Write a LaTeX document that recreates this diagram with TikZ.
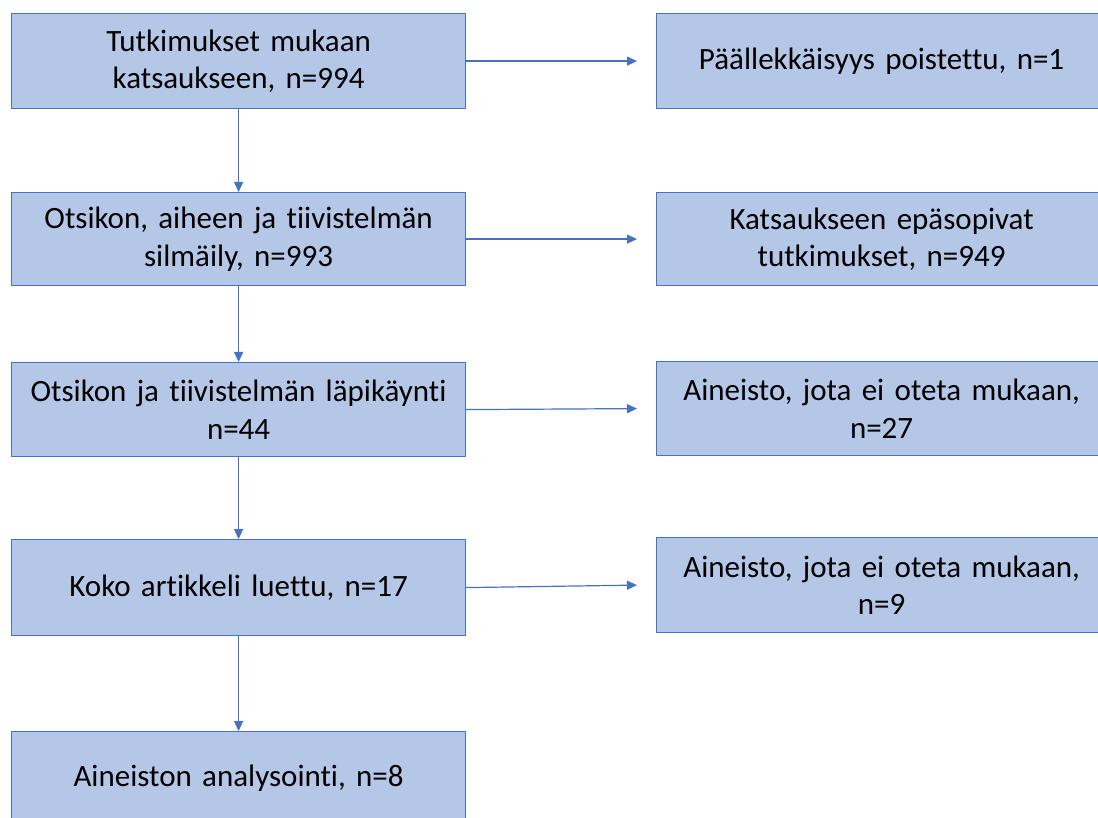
\documentclass[tikz,border=0pt]{standalone}
\usepackage{fontspec}
\setmainfont{Carlito}[Ligatures=NoCommon]
\usetikzlibrary{arrows.meta}
\definecolor{boxfill}{RGB}{180,199,231}
\definecolor{boxline}{RGB}{68,114,196}

\begin{document}
\begin{tikzpicture}[x=1pt, y=-1pt, line cap=round, line join=round, >={Triangle[length=10pt,width=9pt]},
    stagebox/.style={draw=boxline, fill=boxfill, line width=1.2pt, anchor=north west, minimum width=454pt, minimum height=95pt, inner sep=0pt, text width=446pt, align=center, font=\fontsize{31}{37.5}\selectfont},
    outbox/.style={stagebox, minimum width=450pt},
    flow/.style={->, draw=boxline, line width=1.2pt}]

        % Page frame
        \useasboundingbox (0,0) rectangle (1098,818);

        % Main stages (left column)
        \node[stagebox] (s1) at (11,13) {Tutkimukset mukaan\\katsaukseen, n=994};
        \node[stagebox, minimum height=93pt] (s2) at (11,192) {Otsikon, aiheen ja tiivistelmän\\silmäily, n=993};
        \node[stagebox, minimum height=94pt] (s3) at (11,362) {Otsikon ja tiivistelmän läpikäynti\\n=44};
        \node[stagebox, minimum height=96pt] (s4) at (11,539) {Koko artikkeli luettu, n=17};
        \node[stagebox, minimum height=94pt] (s5) at (11,731) {Aineiston analysointi, n=8};

        % Excluded records (right column)
        \node[outbox] (o1) at (656,13) {Päällekkäisyys poistettu, n=1};
        \node[outbox, minimum height=93pt] (o2) at (656,192) {Katsaukseen epäsopivat\\tutkimukset, n=949};
        \node[outbox, minimum height=94pt] (o3) at (656,361) {Aineisto, jota ei oteta mukaan,\\n=27};
        \node[outbox, minimum height=95pt] (o4) at (656,537) {Aineisto, jota ei oteta mukaan,\\n=9};

        % Downward flow
        \foreach \a/\b in {s1/s2, s2/s3, s3/s4, s4/s5}
            \draw[flow] (\a.south) -- (\b.north);

        % Side arrows
        \foreach \a/\b in {s1/o1, s2/o2, s3/o3, s4/o4}
            \draw[flow] (\a.east) -- ([xshift=-19pt]\b.west);

    \end{tikzpicture}
\end{document}
